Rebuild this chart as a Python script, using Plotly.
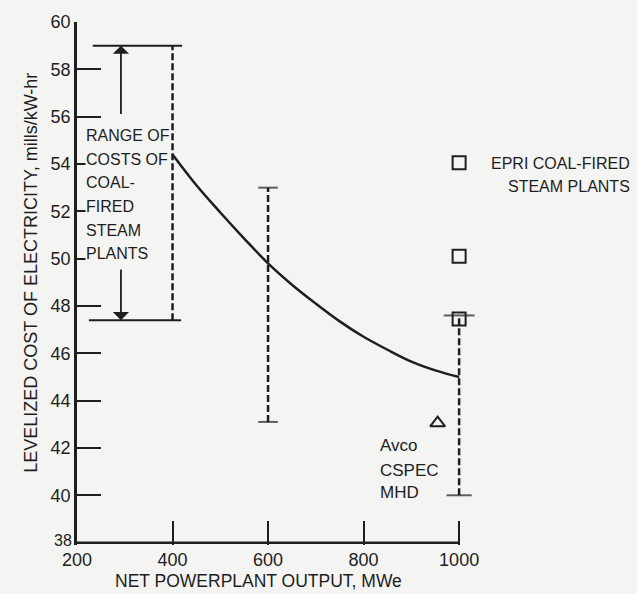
import plotly.graph_objects as go

# ---------------- data ----------------
curve_x = [400, 450, 500, 550, 600, 650, 700, 750, 800, 850, 900, 950, 1000]
curve_y = [54.4, 53.1, 51.95, 50.85, 49.8, 48.9, 48.1, 47.35, 46.7, 46.15, 45.65, 45.28, 45.0]

bar_x = [600, 1000]
bar_low = [43.1, 40.0]
bar_high = [53.0, 47.6]

range_x = 400
range_low = 47.4
range_high = 59.0
range_top_extent = [233, 420]
range_bot_extent = [225, 418]
arrow_x = 292
arrow_up_tail = 56.05
arrow_down_tail = 49.6

epri_x = [1000, 1000, 1000]
epri_y = [54.05, 50.1, 47.45]

mhd_x = [955]
mhd_y = [43.05]

x_ticks = [200, 400, 600, 800, 1000]
y_ticks = [38, 40, 42, 44, 46, 48, 50, 52, 54, 56, 58, 60]

range_label_lines = ["RANGE OF", "COSTS OF", "COAL-", "FIRED", "STEAM", "PLANTS"]
range_label_y = [55.2, 54.2, 53.2, 52.2, 51.2, 50.2]
mhd_label_lines = ["Avco", "CSPEC", "MHD"]
mhd_label_y = [42.1, 41.05, 40.1]
epri_label_lines = ["EPRI COAL-FIRED", "STEAM PLANTS"]
epri_label_y = [54.0, 53.04]

# ---------------- styling ----------------
INK = "#1e1e1e"
BG = "#f4f4f2"
FONT = "Liberation Sans, Arial, sans-serif"
DASH = "7px,3px"

fig = go.Figure()

# smooth cost curve
fig.add_trace(go.Scatter(x=curve_x, y=curve_y, mode="lines",
                         line=dict(color=INK, width=2.5, shape="spline", smoothing=1.0),
                         showlegend=False, hoverinfo="skip"))

# dashed range bars at 600 and 1000
for bx, lo, hi in zip(bar_x, bar_low, bar_high):
    fig.add_trace(go.Scatter(x=[bx, bx], y=[lo, hi], mode="lines",
                             line=dict(color=INK, width=2.5, dash=DASH),
                             showlegend=False, hoverinfo="skip"))

cap_x, cap_y = [], []
for bx, lo, hi in zip(bar_x, bar_low, bar_high):
    cap_x += [bx, bx]
    cap_y += [lo, hi]
fig.add_trace(go.Scatter(x=cap_x, y=cap_y, mode="markers", cliponaxis=False,
                         marker=dict(symbol="line-ew", size=[14, 14, 18, 22],
                                     line=dict(color=INK, width=2)),
                         showlegend=False, hoverinfo="skip"))

# range of coal-fired steam plants at 400
fig.add_trace(go.Scatter(x=[range_x, range_x], y=[range_low, range_high], mode="lines",
                         line=dict(color=INK, width=2.5, dash=DASH),
                         showlegend=False, hoverinfo="skip"))
fig.add_trace(go.Scatter(x=range_top_extent, y=[range_high, range_high], mode="lines",
                         line=dict(color=INK, width=2),
                         showlegend=False, hoverinfo="skip"))
fig.add_trace(go.Scatter(x=range_bot_extent, y=[range_low, range_low], mode="lines",
                         line=dict(color=INK, width=2),
                         showlegend=False, hoverinfo="skip"))

# EPRI squares
fig.add_trace(go.Scatter(x=epri_x, y=epri_y, mode="markers", cliponaxis=False,
                         marker=dict(symbol="square-open", size=13,
                                     line=dict(color=INK, width=2), color=INK),
                         showlegend=False, hoverinfo="skip"))
# Avco MHD triangle
fig.add_trace(go.Scatter(x=mhd_x, y=mhd_y, mode="markers", cliponaxis=False,
                         marker=dict(symbol="triangle-up-open", size=13,
                                     line=dict(color=INK, width=2), color=INK),
                         showlegend=False, hoverinfo="skip"))

# x axis line drawn from 200 to 1000 only
fig.add_shape(type="line", xref="x", yref="y", x0=x_ticks[0], x1=x_ticks[-1],
              y0=y_ticks[0], y1=y_ticks[0], line=dict(color=INK, width=2.5))

# arrows
fig.add_annotation(x=arrow_x, y=range_high, ax=arrow_x, ay=arrow_up_tail,
                   xref="x", yref="y", axref="x", ayref="y", text="",
                   showarrow=True, arrowhead=1, arrowsize=1.5, arrowwidth=1.8,
                   arrowcolor=INK, standoff=0)
fig.add_annotation(x=arrow_x, y=range_low, ax=arrow_x, ay=arrow_down_tail,
                   xref="x", yref="y", axref="x", ayref="y", text="",
                   showarrow=True, arrowhead=1, arrowsize=1.5, arrowwidth=1.8,
                   arrowcolor=INK, standoff=0)

# texts, one annotation per line to keep the original line spacing
for line_text, ly in zip(range_label_lines, range_label_y):
    fig.add_annotation(x=217, y=ly, xref="x", yref="y", xanchor="left", yanchor="middle",
                       showarrow=False, text=line_text, bgcolor=BG, borderpad=0,
                       font=dict(family=FONT, size=16, color=INK))
for line_text, ly in zip(mhd_label_lines, mhd_label_y):
    fig.add_annotation(x=830, y=ly, xref="x", yref="y", xanchor="left", yanchor="middle",
                       showarrow=False, text=line_text,
                       font=dict(family=FONT, size=17, color=INK))
for line_text, ly in zip(epri_label_lines, epri_label_y):
    fig.add_annotation(x=1.367, y=ly, xref="paper", yref="y", xanchor="right",
                       yanchor="middle", showarrow=False, text=line_text,
                       font=dict(family=FONT, size=16, color=INK))

# the corner "38" label, set slightly above the "200" label as in the original
fig.add_annotation(x=-0.008, y=y_ticks[0], xref="paper", yref="y",
                   xanchor="right", yanchor="middle", yshift=2, showarrow=False,
                   text=str(y_ticks[0]), font=dict(family=FONT, size=16, color=INK))

# axis titles
fig.add_annotation(x=-0.114, y=0.52, xref="paper", yref="paper", textangle=-90,
                   xanchor="center", yanchor="middle", showarrow=False,
                   text="LEVELIZED COST OF ELECTRICITY, mills/kW-hr",
                   font=dict(family=FONT, size=18, color=INK))
fig.add_annotation(x=0.446, y=-0.068, xref="paper", yref="paper",
                   xanchor="center", yanchor="middle", showarrow=False,
                   text="NET POWERPLANT OUTPUT, MWe",
                   font=dict(family=FONT, size=17.5, color=INK))

fig.update_xaxes(range=[200, 1050], showline=False, showgrid=False, zeroline=False,
                 tickmode="array", tickvals=x_ticks, ticktext=[str(v) for v in x_ticks],
                 ticks="inside", ticklen=24, tickwidth=2, tickcolor=INK,
                 ticklabelstandoff=2,
                 tickfont=dict(family=FONT, size=18, color=INK))
fig.update_yaxes(range=[37.9, 60], showline=True, linecolor=INK, linewidth=2.5,
                 showgrid=False, zeroline=False,
                 tickmode="array", tickvals=y_ticks[1:], ticktext=[str(v) for v in y_ticks[1:]],
                 ticks="inside", ticklen=24, tickwidth=2, tickcolor=INK,
                 tickfont=dict(family=FONT, size=18, color=INK))

fig.update_layout(width=637, height=594,
                  margin=dict(l=77, r=154, t=19, b=49, pad=0),
                  paper_bgcolor=BG, plot_bgcolor=BG, showlegend=False)

fig.write_html("out.html")
